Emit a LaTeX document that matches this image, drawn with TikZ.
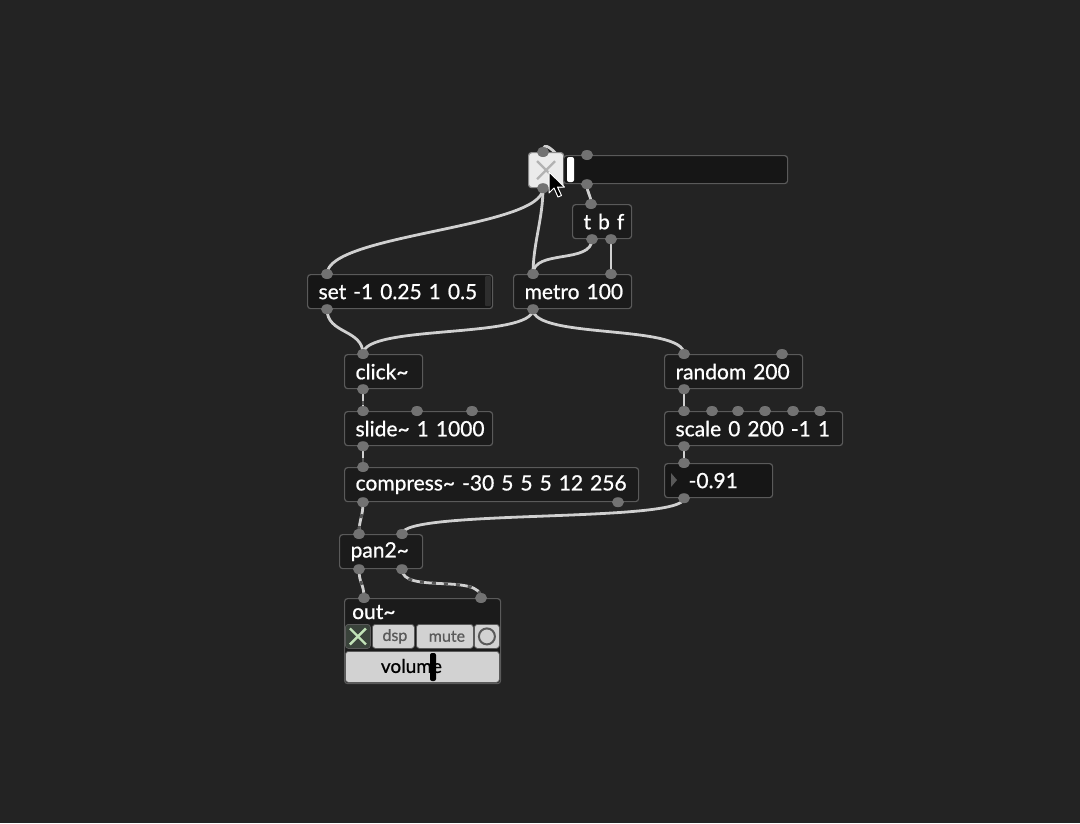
\documentclass[tikz,border=0pt]{standalone}
\usepackage{fontspec}
\setmainfont{Lato}
\newfontfamily\patchfont{Lato}[FakeBold=0.8]
\usetikzlibrary{calc,backgrounds}
\definecolor{bgc}{HTML}{232323}
\definecolor{objfill}{HTML}{1B1B1B}
\definecolor{msgfill}{HTML}{161616}
\definecolor{objline}{HTML}{5A5A5A}
\definecolor{portc}{HTML}{727272}
\definecolor{cordc}{HTML}{D0D0D0}
\definecolor{sigdash}{HTML}{555555}
\definecolor{btnfill}{HTML}{D2D2D2}
\definecolor{btntext}{HTML}{5A5A5A}
\definecolor{dspoff}{HTML}{3A433B}
\definecolor{dspx}{HTML}{C2E3B8}
\tikzset{obj/.style={draw=objline, fill=objfill, line width=1.2pt, rounded corners=3pt, anchor=north west, inner xsep=11pt, inner ysep=0pt, minimum height=34pt, text=white, font=\patchfont\fontsize{21}{24}\selectfont, align=left, text width=#1}}
\tikzset{msg/.style={obj=#1, fill=msgfill}}
\tikzset{btn/.style={draw=objline, fill=btnfill, line width=0.8pt, rounded corners=3pt, anchor=north west, inner sep=0pt, minimum height=24pt, text=btntext, font=\patchfont\fontsize{16}{18}\selectfont}}
\tikzset{cord/.style={draw=cordc, line width=2.8pt}}
\tikzset{sig/.style={cord, postaction={draw=sigdash, line width=2.8pt, dash pattern=on 4pt off 8pt}}}
\tikzset{port/.style={fill=portc}}

\begin{document}
\begin{tikzpicture}[x=1pt, y=-1pt]
    \useasboundingbox (0,0) rectangle (1080,823);

    % objects
    \node [obj=0pt, fill=white!92!black, draw=objline!70!white, minimum width=35pt, minimum height=35pt, inner xsep=0pt] (toggle) at (528,152) {};
    \node [obj=0pt, fill=msgfill, minimum width=224pt, minimum height=28pt, inner xsep=0pt] (slider) at (563,155) {};
    \node [obj=37pt] (tbf) at (572,204) {\mbox{t b f}};
    \node [obj=96pt] (metro) at (513,274) {\mbox{metro 100}};
    \node [msg=163pt] (set) at (307,274) {\mbox{set -1 0.25 1 0.5}};
    \node [obj=56pt] (click) at (344,354) {\mbox{click\textasciitilde}};
    \node [obj=126pt] (slide) at (344,411) {\mbox{slide\textasciitilde\ 1 1000}};
    \node [obj=272pt] (compress) at (344,467) {\mbox{compress\textasciitilde\ -30 5 5 5 12 256}};
    \node [obj=116pt] (random) at (664,354) {\mbox{random 200}};
    \node [obj=156pt] (scale) at (664,411) {\mbox{scale 0 200 -1 1}};
    \node [msg=72pt, inner xsep=18pt, text width=72pt] (number) at (664,463) {\mbox{\hspace{6pt}-0.91}};
    \node [obj=61pt] (pan) at (339,534) {\mbox{pan2\textasciitilde}};
    \node [obj=0pt, minimum width=156pt, minimum height=85pt, inner xsep=0pt] (out) at (344,598) {};
    \node [anchor=base west, inner sep=0pt, text=white, font=\patchfont\fontsize{21}{24}\selectfont] (outlabel) at (352,619) {out\textasciitilde};

    % out~ controls
    \node [btn, fill=dspoff, minimum width=25pt] (dspx) at (345,624) {};
    \node [btn, minimum width=42pt] (dsp) at (372,624) {\hspace{3pt}dsp};
    \node [btn, minimum width=57pt] (mute) at (416,624) {\hspace{4pt}mute};
    \node [btn, minimum width=25pt] (ring) at (474,624) {};
    \node [btn, minimum width=154pt, minimum height=31pt, text=black, font=\patchfont\fontsize{19}{22}\selectfont] (volume) at (345,651) {\raisebox{2pt}{\hspace{-22pt}volume}};
    \fill [black, rounded corners=2pt] (430,653) rectangle (436,681);
    \draw [dspx, line width=2.4pt] ($(dspx.center)+(-8,-8)$) -- ($(dspx.center)+(8,8)$);
    \draw [dspx, line width=2.4pt] ($(dspx.center)+(-8,8)$) -- ($(dspx.center)+(8,-8)$);
    \draw [btntext, line width=2pt] (ring.center) circle (8);

    % toggle, slider, message and number details
    \draw [black!30, line width=2.4pt] ($(toggle.center)+(-9,-9)$) -- ($(toggle.center)+(9,9)$);
    \draw [black!30, line width=2.4pt] ($(toggle.center)+(-9,9)$) -- ($(toggle.center)+(9,-9)$);
    \fill [white, rounded corners=2pt] (567,157) rectangle (574,182);
    \fill [black!82, rounded corners=1pt] (485,276) rectangle (491,306);
    \fill [black!65] (671,473) -- (677,480) -- (671,487) -- cycle;

    % ports
    \coordinate (tog-in) at ([xshift=15pt]toggle.north west);
    \coordinate (tog-out) at ([xshift=15pt]toggle.south west);
    \coordinate (sld-in) at ([xshift=24pt]slider.north west);
    \coordinate (sld-out) at ([xshift=24pt]slider.south west);
    \coordinate (tbf-in) at ([xshift=19pt]tbf.north west);
    \coordinate (tbf-out1) at ([xshift=20pt]tbf.south west);
    \coordinate (tbf-out2) at ([xshift=39pt]tbf.south west);
    \coordinate (met-in1) at ([xshift=20pt]metro.north west);
    \coordinate (met-in2) at ([xshift=98pt]metro.north west);
    \coordinate (met-out) at ([xshift=20pt]metro.south west);
    \coordinate (set-in) at ([xshift=20pt]set.north west);
    \coordinate (set-out) at ([xshift=20pt]set.south west);
    \coordinate (clk-in) at ([xshift=19pt]click.north west);
    \coordinate (clk-out) at ([xshift=19pt]click.south west);
    \coordinate (sli-in1) at ([xshift=19pt]slide.north west);
    \coordinate (sli-in2) at ([xshift=73pt]slide.north west);
    \coordinate (sli-in3) at ([xshift=128pt]slide.north west);
    \coordinate (sli-out) at ([xshift=19pt]slide.south west);
    \coordinate (cmp-in) at ([xshift=19pt]compress.north west);
    \coordinate (cmp-out1) at ([xshift=19pt]compress.south west);
    \coordinate (cmp-out2) at ([xshift=274pt]compress.south west);
    \coordinate (rnd-in1) at ([xshift=20pt]random.north west);
    \coordinate (rnd-in2) at ([xshift=118pt]random.north west);
    \coordinate (rnd-out) at ([xshift=20pt]random.south west);
    \coordinate (scl-out) at ([xshift=20pt]scale.south west);
    \coordinate (num-in) at ([xshift=20pt]number.north west);
    \coordinate (num-out) at ([xshift=20pt]number.south west);
    \coordinate (pan-in1) at ([xshift=20pt]pan.north west);
    \coordinate (pan-in2) at ([xshift=63pt]pan.north west);
    \coordinate (pan-out1) at ([xshift=20pt]pan.south west);
    \coordinate (pan-out2) at ([xshift=63pt]pan.south west);
    \coordinate (out-in1) at ([xshift=20pt]out.north west);
    \coordinate (out-in2) at ([xshift=137pt]out.north west);
    \foreach \p in {tog-in, tog-out, sld-in, sld-out, tbf-in, tbf-out1, tbf-out2, met-in1, met-in2, met-out, set-in, set-out, clk-in, clk-out, sli-in1, sli-in2, sli-in3, sli-out, cmp-in, cmp-out1, cmp-out2, rnd-in1, rnd-in2, rnd-out, scl-out, num-in, num-out, pan-in1, pan-in2, pan-out1, pan-out2, out-in1, out-in2}
        \fill [port] (\p) ellipse [x radius=6, y radius=5];
    \foreach \dx in {20,48,74,101,129,156}
        \fill [port] ([xshift=\dx pt]scale.north west) ellipse [x radius=6, y radius=5];

    % patch cords
    \begin{scope}[on background layer]
        \fill [bgc] (0,0) rectangle (1080,823);
        \draw [cord] (sld-out) .. controls +(0,14) and +(0,-26) .. (tog-in);
        \draw [cord] (sld-out) .. controls +(0,10) and +(0,-10) .. (tbf-in);
        \draw [cord] (tog-out) .. controls +(0,40) and +(0,-40) .. (set-in);
        \draw [cord] (tog-out) .. controls +(0,30) and +(0,-30) .. (met-in1);
        \draw [cord] (tbf-out1) .. controls +(0,25) and +(0,-25) .. (met-in1);
        \draw [cord] (tbf-out2) -- (met-in2);
        \draw [cord] (set-out) .. controls +(0,25) and +(0,-25) .. (clk-in);
        \draw [cord] (met-out) .. controls +(0,30) and +(0,-30) .. (clk-in);
        \draw [cord] (met-out) .. controls +(0,30) and +(0,-30) .. (rnd-in1);
        \draw [cord] (rnd-out) -- ([xshift=20pt]scale.north west);
        \draw [cord] (scl-out) -- (num-in);
        \draw [cord] (num-out) .. controls +(0,25) and +(0,-25) .. (pan-in2);
        \draw [sig] (clk-out) -- (sli-in1);
        \draw [sig] (sli-out) -- (cmp-in);
        \draw [sig] (cmp-out1) .. controls +(0,15) and +(0,-15) .. (pan-in1);
        \draw [sig] (pan-out1) .. controls +(0,15) and +(0,-15) .. (out-in1);
        \draw [sig] (pan-out2) .. controls +(0,25) and +(0,-25) .. (out-in2);
    \end{scope}

    % mouse pointer
    \filldraw [fill=black, draw=white, line width=1pt, line join=round] (549,172) -- ++(0,21) -- ++(5,-5) -- ++(4,9) -- ++(3.5,-1.5) -- ++(-4,-8.5) -- ++(7,0) -- cycle;
\end{tikzpicture}
\end{document}
